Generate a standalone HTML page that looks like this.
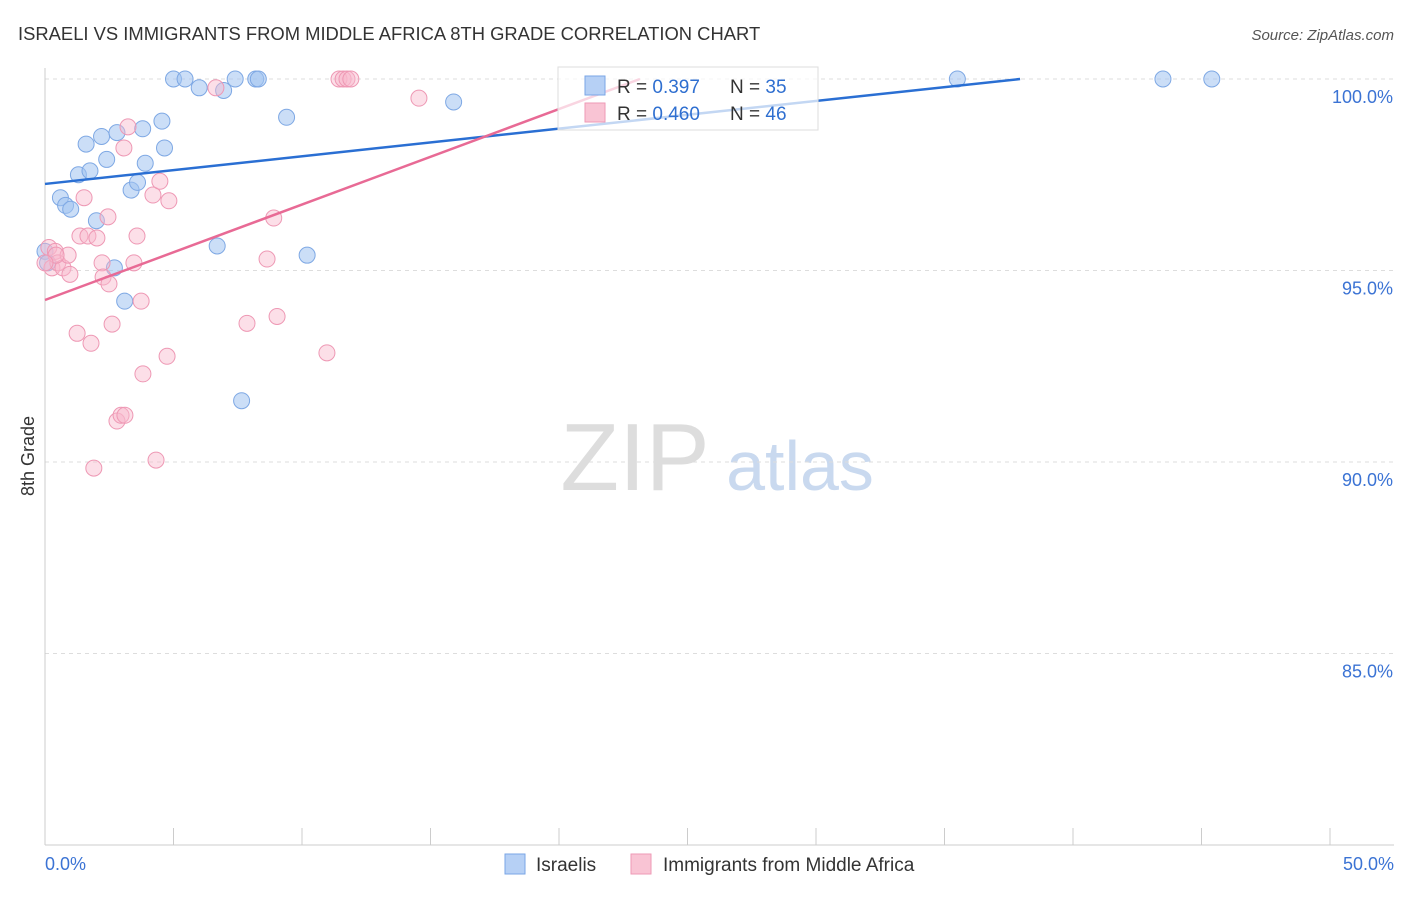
<!DOCTYPE html>
<html><head><meta charset="utf-8"><style>
body{margin:0;background:#fff;font-family:"Liberation Sans",sans-serif;}
svg text{font-family:"Liberation Sans",sans-serif;}
</style></head><body>
<svg id="c" width="1406" height="892" xmlns="http://www.w3.org/2000/svg">
<text x="18" y="40" font-size="18.4" fill="#333">ISRAELI VS IMMIGRANTS FROM MIDDLE AFRICA 8TH GRADE CORRELATION CHART</text>
<text x="1394" y="40" font-size="15" fill="#555" text-anchor="end" font-style="italic">Source: ZipAtlas.com</text>
<text x="34" y="456" font-size="18" fill="#333" text-anchor="middle" transform="rotate(-90 34 456)">8th Grade</text>
<g><text x="635" y="490" font-size="96" fill="#ddd" text-anchor="middle" font-family="Liberation Serif">ZIP</text><text x="800" y="490" font-size="70" fill="#c9d9ef" text-anchor="middle">atlas</text></g>
<g id="grid"></g><g id="axes"></g><g id="pts"></g><g id="lines"></g>
<g>
<rect x="558" y="67" width="260" height="63" fill="#fff" fill-opacity="0.72" stroke="#ddd"/>
<rect x="585" y="76" width="20" height="19" fill="#b6d0f5" stroke="#7aa6e6"/>
<rect x="585" y="103" width="20" height="19" fill="#f9c4d4" stroke="#ee9ab6"/>
<text x="617" y="93" font-size="19" fill="#333">R = <tspan fill="#2f6fd0">0.397</tspan></text>
<text x="730" y="93" font-size="19" fill="#333">N = <tspan fill="#2f6fd0">35</tspan></text>
<text x="617" y="120" font-size="19" fill="#333">R = <tspan fill="#2f6fd0">0.460</tspan></text>
<text x="730" y="120" font-size="19" fill="#333">N = <tspan fill="#2f6fd0">46</tspan></text>
</g>
<g>
<rect x="505" y="854" width="20" height="20" fill="#b6d0f5" stroke="#7aa6e6"/>
<text x="536" y="871" font-size="19" fill="#333">Israelis</text>
<rect x="631" y="854" width="20" height="20" fill="#f9c4d4" stroke="#ee9ab6"/>
<text x="663" y="871" font-size="19" fill="#333">Immigrants from Middle Africa</text>
</g>
</svg>
<script>
const yTicks=[100,95,90,85];
const blueX=[0,0.1,0.6,0.8,1.0,1.3,1.6,1.75,2.0,2.2,2.4,2.7,2.8,3.1,3.35,3.6,3.8,3.9,4.55,4.65,5.0,5.45,6.0,6.7,6.95,7.4,8.2,8.3,7.65,9.4,10.2,15.9,35.5,43.5,45.4];
const blueY=[95.5,95.2,96.9,96.7,96.6,97.5,98.3,97.6,96.3,98.5,97.9,95.07,98.6,94.2,97.1,97.3,98.7,97.8,98.9,98.2,100,100,99.77,95.64,99.7,100,100,100,91.6,99.0,95.4,99.4,100,100,100];
const pinkX=[0.15,0.27,0.4,0.5,0.7,0.9,0.97,1.25,1.36,1.52,1.67,1.79,1.9,2.02,2.22,2.26,2.45,2.49,2.61,2.8,2.96,3.11,3.07,3.23,3.46,3.58,3.74,3.81,4.2,4.32,4.47,4.75,4.82,6.65,7.86,8.64,8.9,9.03,10.97,11.44,11.6,11.75,11.9,14.55,0.43,0];
const pinkY=[95.6,95.07,95.5,95.2,95.07,95.4,94.9,93.36,95.9,96.9,95.9,93.1,89.84,95.85,95.2,94.83,96.4,94.65,93.6,91.07,91.22,91.22,98.2,98.75,95.2,95.9,94.2,92.3,96.97,90.05,97.33,92.76,96.82,99.77,93.62,95.3,96.37,93.8,92.85,100,100,100,100,99.5,95.4,95.2];
const blueTrend=[[0,97.26],[37.94,100]];
const pinkTrend=[[0,94.23],[23.15,100]];
const NS='http://www.w3.org/2000/svg';
const X=v=>45+v*25.7, Y=v=>79+(100-v)*38.3;
function mk(t,a,p){const e=document.createElementNS(NS,t);for(const k in a)e.setAttribute(k,a[k]);document.getElementById(p).appendChild(e);return e;}
yTicks.forEach(t=>{
 const l=mk('line',{x1:45,x2:1394,y1:Y(t),y2:Y(t),stroke:'#ddd','stroke-dasharray':'4,4'},'grid');
 
 
 const tx=mk('text',{x:1393,y:Y(t)+24,'font-size':18,fill:'#3b73d4','text-anchor':'end'},'grid');tx.textContent=t.toFixed(1)+'%';
 
 
});
const ax=mk('line',{x1:45,x2:45,y1:68,y2:845,stroke:'#ccc'},'axes');


const bx=mk('line',{x1:45,x2:1394,y1:845,y2:845,stroke:'#ccc'},'axes');


for(let i=0;i<=10;i++){const t=mk('line',{x1:X(i*5),x2:X(i*5),y1:828,y2:845,stroke:'#ccc'},'axes');
 
 }
[['0.0%',45,'start'],['50.0%',1394,'end']].forEach(a=>{const t=mk('text',{x:a[1],y:870,'font-size':18,fill:'#3b73d4','text-anchor':a[2]},'axes');t.textContent=a[0];
 
 });
blueX.forEach((v,i)=>{const c=mk('circle',{cx:X(v),cy:Y(blueY[i]),r:8,fill:'rgba(160,195,240,0.55)',stroke:'#7ea8e4','stroke-width':1},'pts');
 
 });
pinkX.forEach((v,i)=>{const c=mk('circle',{cx:X(v),cy:Y(pinkY[i]),r:8,fill:'rgba(248,185,205,0.45)',stroke:'#ee98b4','stroke-width':1},'pts');
 
 });
const bl=mk('line',{x1:X(blueTrend[0][0]),y1:Y(blueTrend[0][1]),x2:X(blueTrend[1][0]),y2:Y(blueTrend[1][1]),stroke:'#2a6fd3','stroke-width':2.5},'lines');


const pl=mk('line',{x1:X(pinkTrend[0][0]),y1:Y(pinkTrend[0][1]),x2:X(pinkTrend[1][0]),y2:Y(pinkTrend[1][1]),stroke:'#e86a95','stroke-width':2.5},'lines');


</script>
</body></html>
